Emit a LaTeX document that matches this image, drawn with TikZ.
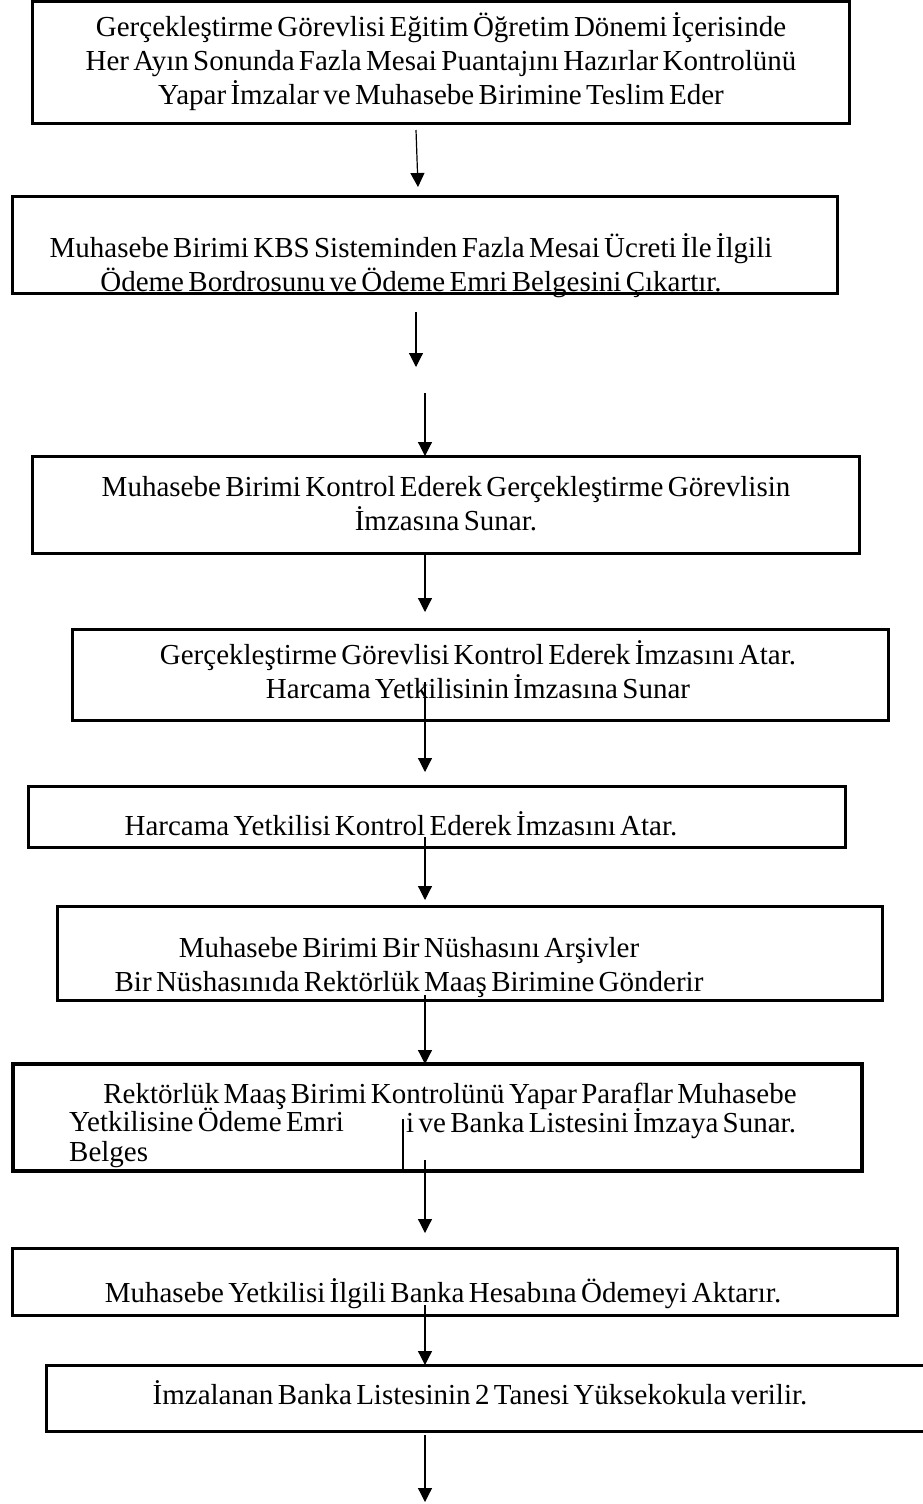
\documentclass[tikz,border=0pt]{standalone}
\usepackage{fontspec}
\setmainfont{Liberation Serif}[WordSpace=0.6]
\usetikzlibrary{arrows.meta, calc}

\begin{document}
\begin{tikzpicture}[x=1pt, y=-1pt,
    stepbox/.style={draw, line width=3pt, inner sep=0pt, outer sep=0pt},
    steptext/.style={inner sep=0pt, align=center,
                     font=\fontsize{29}{34}\selectfont},
    flow/.style={-{Triangle[length=14pt, width=14pt]}, line width=1.2pt}
  ]
    \useasboundingbox (0,0) rectangle (922,1504);

    \node[stepbox, minimum width=817pt, minimum height=121pt] (b1) at (440.5, 62.5) {};
    \node[stepbox, minimum width=825pt, minimum height=97pt] (b2) at (424.5, 244.5) {};
    \node[stepbox, minimum width=827pt, minimum height=97pt] (b3) at (445.5, 504.5) {};
    \node[stepbox, minimum width=816pt, minimum height=91pt] (b4) at (480, 674.5) {};
    \node[stepbox, minimum width=817pt, minimum height=61pt] (b5) at (436.5, 816.5) {};
    \node[stepbox, minimum width=825pt, minimum height=94pt] (b6) at (469.5, 953) {};
    \node[stepbox, line width=4pt, minimum width=849pt, minimum height=107pt] (b7) at (437.5, 1117.5) {};
    \node[stepbox, minimum width=885pt, minimum height=67pt] (b8) at (454.5, 1281.5) {};
    \node[stepbox, minimum width=889pt, minimum height=66pt] (b9) at (490.5, 1398) {};

    \node[steptext] (t1) at (441, 62)
      {Gerçekleştirme Görevlisi Eğitim Öğretim Dönemi İçerisinde\\
       Her Ayın Sonunda Fazla Mesai Puantajını Hazırlar Kontrolünü\\
       Yapar İmzalar ve Muhasebe Birimine Teslim Eder};
    \node[steptext] (t2) at (411, 266)
      {Muhasebe Birimi KBS Sisteminden Fazla Mesai Ücreti İle İlgili\\
       Ödeme Bordrosunu ve Ödeme Emri Belgesini Çıkartır.};
    \node[steptext] (t3) at (446, 504)
      {Muhasebe Birimi Kontrol Ederek Gerçekleştirme Görevlisin\\
       İmzasına Sunar.};
    \node[steptext] (t4) at (478, 670)
      {Gerçekleştirme Görevlisi Kontrol Ederek İmzasını Atar.\\
       Harcama Yetkilisinin İmzasına Sunar};
    \node[steptext] (t5) at (401, 824)
      {Harcama Yetkilisi Kontrol Ederek İmzasını Atar.};
    \node[steptext] (t6) at (409, 968)
      {Muhasebe Birimi Bir Nüshasını Arşivler\\
       Bir Nüshasınıda Rektörlük Maaş Birimine Gönderir};
    \node[steptext] (t7a) at (450, 1096)
      {Rektörlük Maaş Birimi Kontrolünü Yapar Paraflar Muhasebe};
    \node[steptext, align=left, anchor=west,
          font=\fontsize{29}{30}\selectfont] (t7b) at (69, 1138)
      {Yetkilisine Ödeme Emri\\Belges};
    \node[steptext, anchor=west] (t7c) at (406, 1124)
      {i ve Banka Listesini İmzaya Sunar.};
    \node[steptext] (t8) at (443, 1294)
      {Muhasebe Yetkilisi İlgili Banka Hesabına Ödemeyi Aktarır.};
    \node[steptext] (t9) at (480, 1393)
      {İmzalanan Banka Listesinin 2 Tanesi Yüksekokula verilir.};

    \coordinate (axl) at (416, 0);
    \coordinate (axr) at (425, 0);
    \coordinate (stop) at (425, 1502);

    \draw[flow] ($(b1.south -| axl)+(0,7)$) -- ($(b2.north -| axl)+(2,-9)$);
    \draw[flow] ($(b2.south -| axl)+(0,19)$) -- ($(b2.south -| axl)+(0,74)$);
    \draw[flow] ($(b3.north -| axr)+(0,-63)$) -- (b3.north -| axr);
    \draw[flow] (b3.south -| axr) -- ($(b4.north -| axr)+(0,-17)$);
    \draw[flow] ($(b4.south -| axr)+(0,-38)$) -- ($(b5.north -| axr)+(0,-14)$);
    \draw[flow] ($(b5.south -| axr)+(0,-10)$) -- ($(b6.north -| axr)+(0,-6)$);
    \draw[flow] ($(b6.south -| axr)+(0,-5)$) -- (b7.north -| axr);
    \draw[flow] ($(b7.south -| axr)+(0,-11)$) -- ($(b8.north -| axr)+(0,-15)$);
    \draw[flow] ($(b8.south -| axr)+(0,-10)$) -- (b9.north -| axr);
    \draw[flow] ($(b9.south -| axr)+(0,4)$) -- (stop);
    \draw[line width=1.2pt] ($(b7.south -| t7c.west)+(-3,0)$) -- ++(0,-52);
  \end{tikzpicture}
\end{document}
